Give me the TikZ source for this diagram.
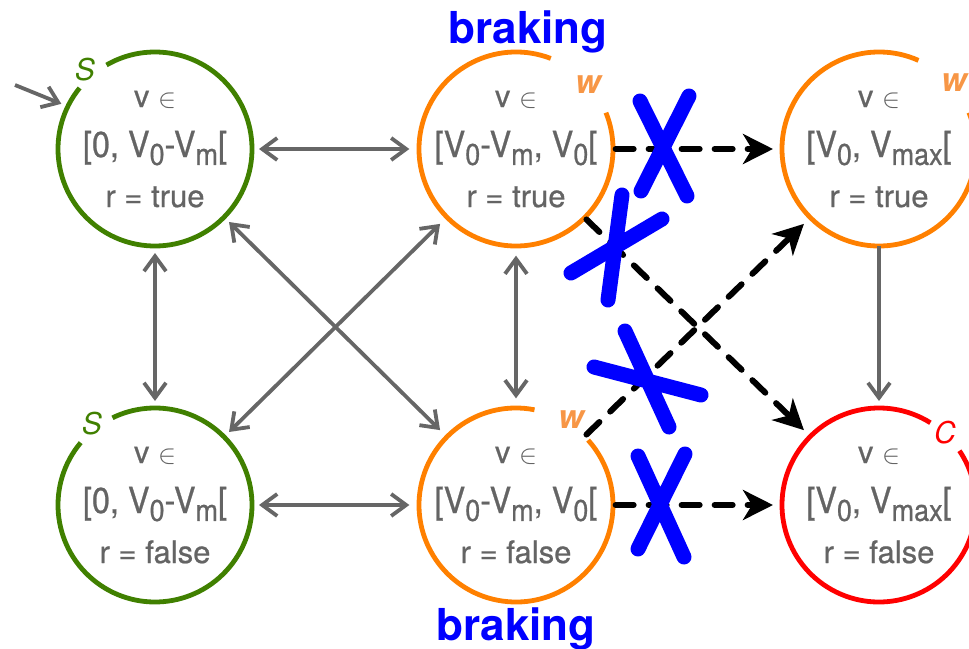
\documentclass[tikz,border=0pt]{standalone}
\usepackage{graphicx}
\usepackage{fontspec}
\setmainfont{TeX Gyre Heros}
\newfontfamily\statefont{TeX Gyre Heros}[FakeBold=0.7]
\newfontfamily\narrowheros{TeX Gyre Heros}[FakeStretch=0.9,FakeBold=0.7]
\usetikzlibrary{arrows.meta,calc}

\definecolor{txtgrey}{RGB}{100,100,100}
\definecolor{arrowgrey}{RGB}{102,102,102}
\definecolor{safegreen}{RGB}{64,128,0}
\definecolor{warnorange}{RGB}{255,128,0}
\definecolor{warnlabel}{RGB}{247,150,70}
\definecolor{critred}{RGB}{255,0,0}
\definecolor{brakeblue}{RGB}{0,0,255}

% lowered, slightly smaller subscripts of the speed bounds
\newcommand\lsub[1]{\raisebox{-0.22em}{\fontsize{30}{30}\selectfont #1}}
\newcommand\midline{\narrowheros\fontsize{36}{50}\selectfont}
% thin element-of sign, scaled up from the 10pt math symbol
\newcommand\elem{\scalebox{2.7}{\fontsize{10}{10}\selectfont$\in$}}
% three text lines with fixed baselines 50pt apart
\newcommand\statetext[3]{\rule{0pt}{16pt}\smash{#1}\\{\midline\smash{#2}}\\\smash{#3}}

\begin{document}
\begin{tikzpicture}[x=1pt,y=1pt,
  state/.style={circle, minimum size=194pt, inner sep=0pt, outer sep=0pt,
    text=txtgrey, align=center, font=\statefont\fontsize{31}{50}\selectfont},
  ring/.style={line width=4.8pt},
  tag/.style={inner sep=0pt, font=\fontsize{30}{30}\selectfont\itshape},
  wtag/.style={inner sep=0pt, text=warnlabel, font=\fontsize{33}{33}\selectfont\bfseries\itshape},
  brk/.style={inner sep=0pt, text=brakeblue, font=\fontsize{44}{44}\selectfont\bfseries},
  link/.style={draw=arrowgrey, line width=3.8pt,
    {Straight Barb[length=15pt,width=22pt]}-{Straight Barb[length=15pt,width=22pt]},
    shorten >=7pt, shorten <=7pt},
  onelink/.style={draw=arrowgrey, line width=3.8pt,
    -{Straight Barb[length=15pt,width=22pt]}, shorten >=7pt},
  blocked/.style={draw=black, line width=6pt, dash pattern=on 18pt off 15pt,
    line cap=round, -{Stealth[length=30pt,width=30pt,inset=9pt]}, shorten >=9pt},
  veto/.style={draw=brakeblue, line width=15pt, line cap=round}
]
\useasboundingbox (0,-648) rectangle (969,0);

% states
\node[state] (A) at (155,-149) {\statetext{v \elem}{[0, V\lsub{0}-V\lsub{m}[}{r = true}};
\node[state] (B) at (516,-149) {\statetext{v \elem}{[V\lsub{0}-V\lsub{m}, V\lsub{0}[}{r = true}};
\node[state] (C) at (879,-149) {\statetext{v \elem}{[V\lsub{0}, V\lsub{max}[}{r = true}};
\node[state] (D) at (155,-505) {\statetext{v \elem}{[0, V\lsub{0}-V\lsub{m}[}{r = false}};
\node[state] (E) at (516,-505) {\statetext{v \elem}{[V\lsub{0}-V\lsub{m}, V\lsub{0}[}{r = false}};
\node[state] (F) at (879,-505) {\statetext{v \elem}{[V\lsub{0}, V\lsub{max}[}{r = false}};

% state outlines, open where the class letter sits
\draw[ring, safegreen] ($(A)+(141:97)$) arc[start angle=141, end angle=480, radius=97];
\draw[ring, safegreen] ($(D)+(140:97)$) arc[start angle=140, end angle=476, radius=97];
\draw[ring, warnorange] ($(B)+(69:97)$) arc[start angle=69, end angle=382, radius=97];
\draw[ring, warnorange] ($(E)+(79:97)$) arc[start angle=79, end angle=402, radius=97];
\draw[ring, warnorange] ($(C)+(66:97)$) arc[start angle=66, end angle=382, radius=97];
\draw[ring, critred] ($(F)+(58:97)$) arc[start angle=58, end angle=394, radius=97];

% class letters
\node[tag, text=safegreen] (sA) at (85,-70) {S};
\node[tag, text=safegreen] (sD) at (92,-424) {S};
\node[wtag] (wB) at (588,-85) {w};
\node[wtag] (wE) at (571,-420) {w};
\node[wtag] (wC) at (954,-83) {w};
\node[tag, text=critred] (cF) at (945,-433) {C};

% braking annotations
\node[brk, anchor=base] (brTop) at (528,-43) {braking};
\node[brk, anchor=base] (brBot) at (516,-640) {braking};

% initial state marker
\coordinate (start) at (15,-85);
\draw[onelink] (start) -- (A.154);

% admissible transitions
\draw[link] (A) -- (B);
\draw[link] (A) -- (D);
\draw[link] (A) -- (E);
\draw[link] (D) -- (B);
\draw[link] (D) -- (E);
\draw[link] (B) -- (E);
\draw[onelink, shorten <=0pt] (C) -- (F);

% transitions suppressed by braking
\draw[blocked] (B.east) -- (C.west);
\draw[blocked] (B.-45) -- (F.135);
\draw[blocked] (E.45) -- (C.-135);
\draw[blocked] (E.east) -- (F.west);

% crosses over the suppressed transitions
\draw[veto] (640,-101) -- (687,-196) (689,-96) -- (641,-191);
\draw[veto] (622,-195) -- (608,-300) (571,-273) -- (662,-219);
\draw[veto] (625,-331) -- (669,-427) (594,-367) -- (701,-395);
\draw[veto] (638,-456) -- (684,-557) (685,-454) -- (638,-549);
\end{tikzpicture}
\end{document}
